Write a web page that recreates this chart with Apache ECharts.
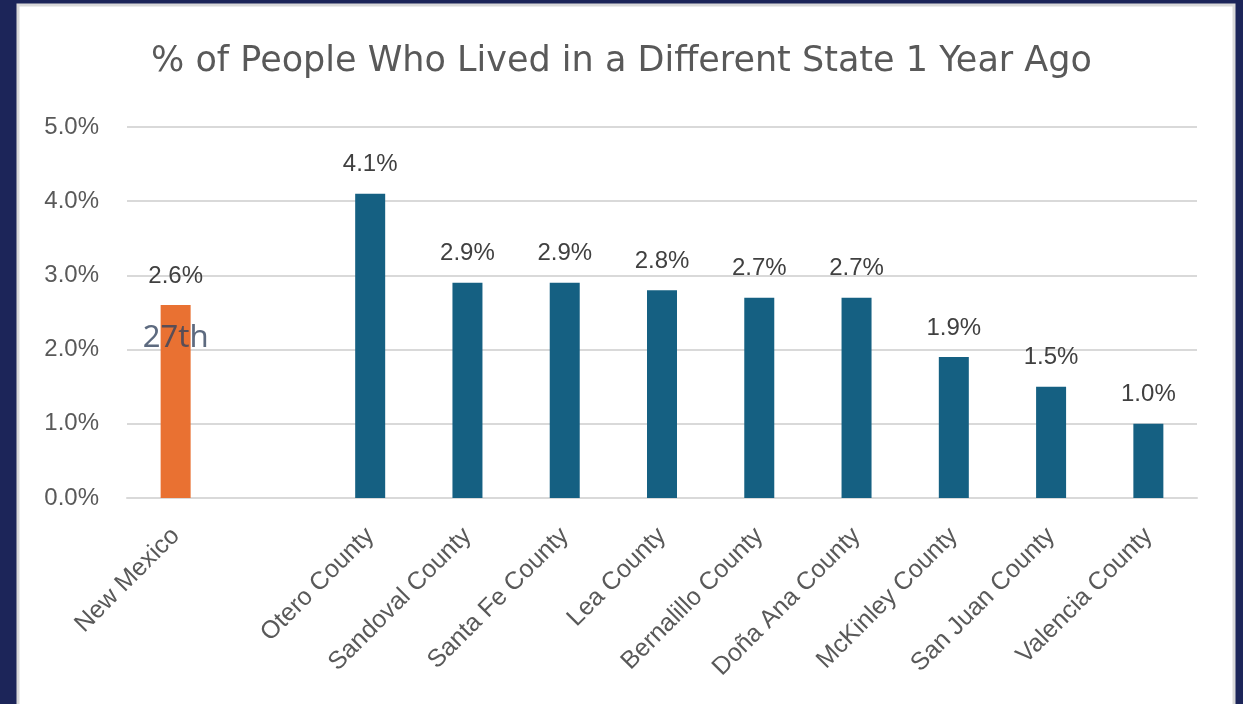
<!DOCTYPE html>
<html>
<head>
<meta charset="utf-8">
<script src="https://cdn.jsdelivr.net/npm/echarts@6/dist/echarts.min.js"></script>
<style>
html,body{margin:0;padding:0;background:#1c2559;}
#chart{width:1243px;height:704px;}
</style>
</head>
<body>
<div id="chart"></div>
<script>
var categories = ['New Mexico', '', 'Otero County', 'Sandoval County', 'Santa Fe County', 'Lea County', 'Bernalillo County', 'Doña Ana County', 'McKinley County', 'San Juan County', 'Valencia County'];
var stateValues = [2.6, null, null, null, null, null, null, null, null, null, null];
var countyValues = [null, null, 4.1, 2.9, 2.9, 2.8, 2.7, 2.7, 1.9, 1.5, 1.0];
var rankLabel = '27th';
var rankPosition = [0, 2.16];
var yTicks = [0, 1, 2, 3, 4, 5];

var chart = echarts.init(document.getElementById('chart'), null, {renderer: 'canvas'});

var labelStyle = {
  show: true,
  position: 'top',
  distance: 17,
  fontFamily: 'Liberation Sans',
  fontSize: 24,
  color: '#404040',
  formatter: function (p) { return p.value == null ? '' : p.value.toFixed(1) + '%'; }
};

chart.setOption({
  backgroundColor: '#1c2559',
  animation: false,
  graphic: [{
    type: 'rect',
    z: -10,
    shape: {x: 18, y: 5, width: 1216, height: 705},
    style: {fill: '#ffffff', stroke: '#d9d9d9', lineWidth: 3}
  }],
  title: {
    text: '% of People Who Lived in a Different State 1 Year Ago',
    left: 'center',
    top: 39,
    textStyle: {fontFamily: 'DejaVu Sans', fontSize: 35, fontWeight: 'normal', color: '#595959'}
  },
  grid: {left: 127, right: 46, top: 127, bottom: 206, containLabel: false},
  xAxis: {
    type: 'category',
    data: categories,
    axisTick: {show: false},
    axisLine: {show: true, lineStyle: {color: '#d9d9d9', width: 2}},
    axisLabel: {
      rotate: 45,
      interval: 0,
      margin: 34,
      fontFamily: 'Liberation Sans',
      fontSize: 25,
      color: '#595959'
    }
  },
  yAxis: {
    type: 'value',
    min: yTicks[0],
    max: yTicks[yTicks.length - 1],
    interval: 1,
    axisLine: {show: false},
    axisTick: {show: false},
    splitLine: {lineStyle: {color: '#d9d9d9', width: 2}},
    axisLabel: {
      margin: 28,
      fontFamily: 'Liberation Sans',
      fontSize: 24,
      color: '#595959',
      formatter: function (v) { return v.toFixed(1) + '%'; }
    }
  },
  series: [
    {
      type: 'bar',
      data: stateValues,
      barWidth: 30,
      barGap: '-100%',
      itemStyle: {color: '#e97132'},
      label: labelStyle
    },
    {
      type: 'bar',
      data: countyValues,
      barWidth: 30,
      barGap: '-100%',
      itemStyle: {color: '#156082'},
      label: labelStyle
    },
    {
      type: 'scatter',
      data: [rankPosition],
      symbolSize: 0,
      z: 10,
      label: {
        show: true,
        position: 'inside',
        formatter: rankLabel,
        fontFamily: 'Noto Sans',
        fontSize: 31,
        color: '#34455f'
      }
    }
  ]
});
</script>
</body>
</html>
